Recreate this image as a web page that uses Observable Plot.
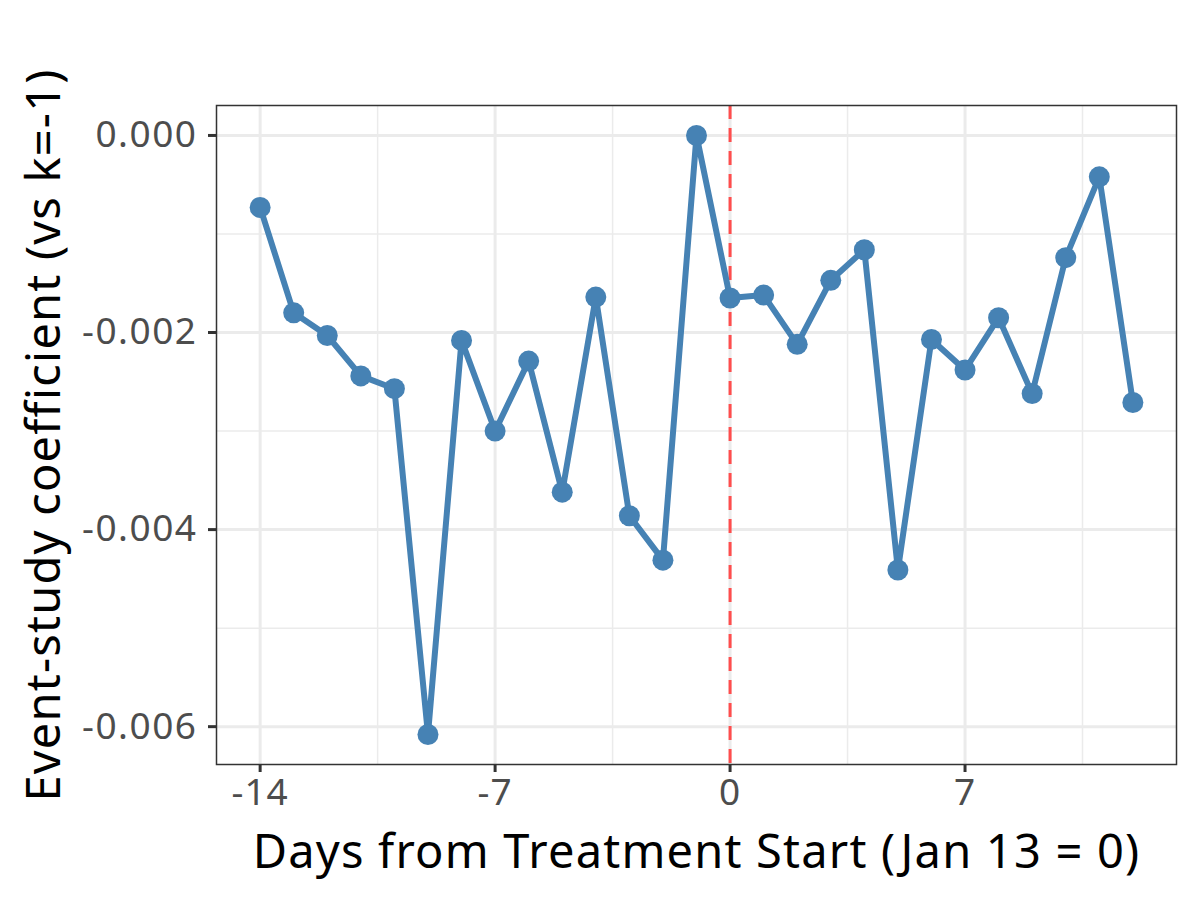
<!DOCTYPE html>
<html>
<head>
<meta charset="utf-8">
<script src="https://cdn.jsdelivr.net/npm/d3@7"></script>
<script src="https://cdn.jsdelivr.net/npm/@observablehq/plot@0.6"></script>
<style>
  html, body { margin: 0; padding: 0; background: #fff; }
  #chart svg { display: block; }
  #chart g[aria-label="text"] text { letter-spacing: 1.2px; }
  #chart g[aria-label="x-axis tick label"] text { letter-spacing: 1px; }
  #chart g[aria-label="y-axis tick label"] text { letter-spacing: 1.5px; }
</style>
</head>
<body>
<div id="chart"></div>
<script>
const days = [-14,-13,-12,-11,-10,-9,-8,-7,-6,-5,-4,-3,-2,-1,0,1,2,3,4,5,6,7,8,9,10,11,12];
const coefs = [-0.00073,-0.00180,-0.00203,-0.00244,-0.00257,-0.00608,-0.00208,-0.00300,-0.00229,-0.00362,-0.00164,-0.00386,-0.00431,0.00000,-0.00165,-0.00162,-0.00212,-0.00147,-0.00116,-0.00441,-0.00207,-0.00238,-0.00185,-0.00262,-0.00124,-0.00042,-0.00271];
const xTicks = [-14,-7,0,7];
const xMinor = [-10.5,-3.5,3.5,10.5];
const yTicks = [0,-0.002,-0.004,-0.006];
const yMinor = [-0.001,-0.003,-0.005];
const xTitle = "Days from Treatment Start (Jan 13 = 0)";
const yTitle = "Event-study coefficient (vs k=-1)";

const data = days.map((d, i) => ({day: d, coef: coefs[i]}));
const font = "'Noto Sans', sans-serif";

const chart = Plot.plot({
  width: 1200,
  height: 900,
  marginLeft: 216,
  marginRight: 24,
  marginTop: 105,
  marginBottom: 136,
  style: {fontFamily: font, background: "#fff"},
  x: {domain: [-15.3, 13.3]},
  y: {domain: [-0.006384, 0.000304]},
  marks: [
    Plot.ruleX(xMinor, {stroke: "#ebebeb", strokeWidth: 1.5}),
    Plot.ruleY(yMinor, {stroke: "#ebebeb", strokeWidth: 1.5}),
    Plot.ruleX(xTicks, {stroke: "#ebebeb", strokeWidth: 3}),
    Plot.ruleY(yTicks, {stroke: "#ebebeb", strokeWidth: 3}),
    Plot.ruleX([0], {stroke: "#ff4d4d", strokeWidth: 3, strokeDasharray: "14,9"}),
    Plot.line(data, {x: "day", y: "coef", stroke: "#4682b4", strokeWidth: 6}),
    Plot.dot(data, {x: "day", y: "coef", fill: "#4682b4", r: 10.5}),
    Plot.frame({stroke: "#333333", strokeWidth: 1.5}),
    Plot.axisX(xTicks, {tickSize: 8, tickPadding: 6, stroke: "#333", strokeWidth: 3, fontSize: 37, fill: "#4d4d4d", tickFormat: d => String(d), label: null}),
    Plot.axisY(yTicks, {tickSize: 8, tickPadding: 11, stroke: "#333", strokeWidth: 3, fontSize: 37, fill: "#4d4d4d", tickFormat: d => d.toFixed(3), label: null}),
    Plot.text([xTitle], {frameAnchor: "bottom", dy: 88, fontSize: 47, fill: "#000", textAnchor: "middle", lineAnchor: "middle"}),
    Plot.text([yTitle], {frameAnchor: "left", dx: -172, rotate: -90, fontSize: 47, fill: "#000", textAnchor: "middle", lineAnchor: "middle"})
  ]
});
document.getElementById("chart").append(chart);
</script>
</body>
</html>
